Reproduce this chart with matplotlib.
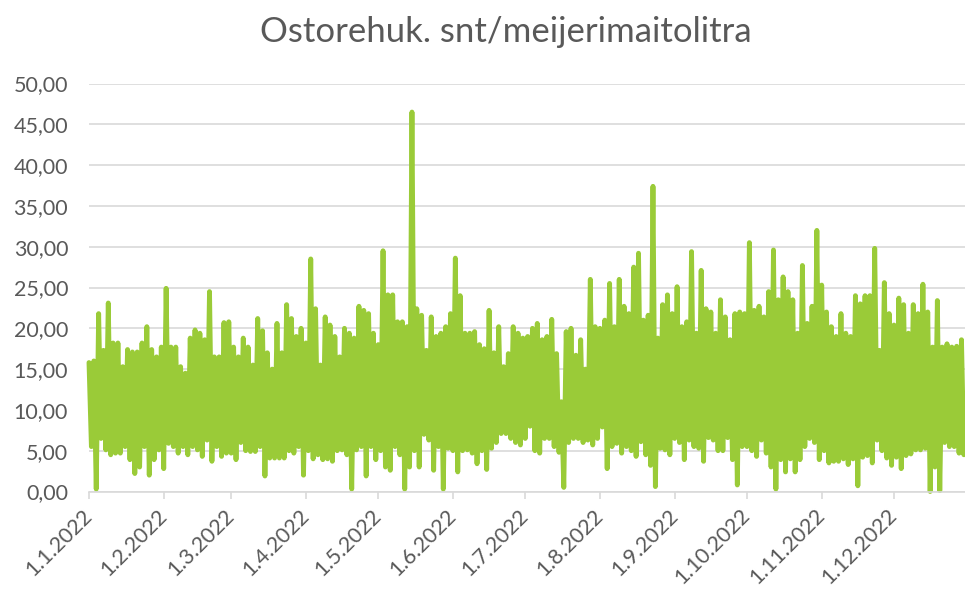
import matplotlib
matplotlib.use('Agg')

import numpy as np
import pandas as pd
import matplotlib.pyplot as plt

title = 'Ostorehuk. snt/meijerimaitolitra'
start = '2022-01-01'
month_labels = ['1.1.2022', '1.2.2022', '1.3.2022', '1.4.2022', '1.5.2022',
                '1.6.2022', '1.7.2022', '1.8.2022', '1.9.2022', '1.10.2022',
                '1.11.2022', '1.12.2022']
y_ticks = [0, 5, 10, 15, 20, 25, 30, 35, 40, 45, 50]

# highest and lowest value in each two-day block
peak = [
    15.8, 16.0, 21.8, 17.3, 23.1, 18.2, 18.2, 15.3, 17.4, 17.1,
    17.1, 18.2, 20.2, 17.4, 16.5, 17.7, 24.9, 17.7, 17.7, 15.3,
    14.5, 18.8, 19.8, 19.4, 18.6, 24.5, 16.5, 16.5, 20.7, 20.8,
    17.7, 16.5, 18.8, 17.7, 15.5, 21.2, 19.7, 17.0, 15.0, 20.6,
    17.0, 22.9, 21.2, 19.0, 20.0, 18.2, 28.5, 22.4, 15.5, 21.4,
    20.4, 19.0, 16.5, 20.0, 19.4, 18.8, 22.7, 22.2, 21.8, 19.4,
    18.0, 29.5, 24.1, 24.1, 20.8, 20.8, 20.2, 46.5, 22.4, 21.6,
    17.3, 21.4, 19.0, 19.4, 20.2, 21.8, 28.6, 24.0, 19.4, 19.4,
    19.6, 18.0, 17.5, 22.2, 17.0, 20.2, 15.3, 16.9, 20.2, 19.4,
    18.8, 19.0, 20.0, 20.6, 18.6, 19.0, 21.1, 16.9, 11.0, 19.6,
    20.0, 16.7, 18.6, 15.0, 26.0, 20.2, 20.0, 21.0, 25.5, 20.2,
    26.0, 22.7, 21.8, 27.5, 29.2, 21.0, 21.6, 37.4, 18.8, 22.9,
    24.1, 21.8, 25.1, 20.2, 20.8, 29.4, 19.4, 27.1, 22.4, 22.0,
    19.4, 23.5, 21.4, 18.6, 21.8, 22.0, 21.8, 30.5, 22.2, 22.7,
    21.4, 24.5, 29.6, 23.5, 26.3, 24.5, 23.5, 19.4, 27.7, 20.6,
    22.7, 32.0, 25.3, 22.0, 20.2, 19.0, 21.8, 19.4, 19.0, 24.0,
    23.0, 24.0, 24.0, 29.8, 17.3, 25.6, 21.8, 20.4, 23.7, 22.9,
    19.4, 22.9, 21.8, 25.4, 22.0, 17.7, 23.4, 17.7, 18.1, 17.7,
    17.8, 18.6, 13.0,
]
trough = [
    5.5, 0.3, 6.5, 5.1, 4.5, 4.7, 4.7, 5.5, 3.9, 2.2,
    3.0, 5.5, 2.0, 3.9, 5.1, 2.8, 5.9, 5.5, 4.7, 5.5,
    4.5, 5.5, 5.1, 4.3, 6.3, 3.7, 5.5, 4.3, 4.7, 4.7,
    3.9, 6.0, 5.0, 4.9, 4.9, 5.5, 1.9, 4.1, 4.1, 4.1,
    4.1, 5.0, 4.7, 5.5, 2.0, 5.0, 4.0, 4.5, 3.9, 4.0,
    3.7, 5.0, 5.1, 4.5, 0.3, 5.1, 5.5, 1.9, 5.5, 3.9,
    5.0, 3.0, 2.6, 5.5, 4.5, 0.3, 3.0, 5.0, 3.0, 7.0,
    6.3, 2.6, 5.5, 0.3, 5.3, 5.0, 2.4, 5.0, 5.1, 4.7,
    3.4, 5.0, 2.7, 5.3, 6.0, 7.1, 7.1, 6.5, 6.0, 5.7,
    6.5, 8.0, 5.0, 4.7, 6.5, 6.5, 5.5, 4.8, 0.5, 6.0,
    6.5, 6.5, 6.0, 6.3, 5.7, 6.5, 7.9, 2.8, 5.5, 5.9,
    4.7, 5.5, 5.0, 4.3, 6.1, 4.5, 3.2, 0.6, 5.3, 5.1,
    4.5, 6.5, 6.0, 3.9, 6.3, 5.5, 5.3, 3.7, 6.6, 6.3,
    5.0, 5.0, 6.6, 3.9, 0.8, 5.5, 5.5, 5.0, 4.3, 6.3,
    4.7, 3.0, 0.3, 3.9, 2.4, 4.0, 2.4, 3.9, 5.5, 6.5,
    6.0, 3.9, 5.0, 3.5, 3.7, 3.7, 4.0, 3.3, 4.0, 0.7,
    4.2, 4.4, 3.5, 6.3, 5.0, 4.1, 3.2, 4.2, 2.8, 4.4,
    4.6, 5.1, 5.1, 5.3, 0.0, 3.0, 0.1, 6.0, 5.5, 5.5,
    4.7, 4.5, 4.5,
]

line_color = '#9ACB38'
text_color = '#595959'
grid_color = '#D9D9D9'

plt.rcParams['font.family'] = ['Lato', 'DejaVu Sans']

# peak on the first day of the block, trough on the second
blocks = pd.date_range(start, periods=len(peak), freq='2D')
x = np.empty(2 * len(peak), dtype='datetime64[ns]')
x[0::2] = blocks.values
x[1::2] = (blocks + pd.Timedelta(days=1)).values
y = np.empty(2 * len(peak))
y[0::2] = peak
y[1::2] = trough

W, H = 965, 590
fig = plt.figure(figsize=(W / 100, H / 100), dpi=100)
ax = fig.add_axes([89 / W, (H - 491.5) / H, 879.7 / W, 408 / H])

ax.plot(x, y, color=line_color, lw=3.5, solid_joinstyle='round',
        solid_capstyle='round', clip_on=False)

ax.set_xlim(pd.Timestamp(start), pd.Timestamp(start) + pd.Timedelta(days=365))
ax.set_ylim(0, 50)

ax.set_yticks(y_ticks)
ax.set_yticklabels([('%.2f' % v).replace('.', ',') for v in y_ticks])
ax.yaxis.set_tick_params(length=0, pad=15, labelsize=15.5,
                         labelcolor=text_color)

months = pd.date_range(start, periods=12, freq='MS')
ax.set_xticks(months)
ax.set_xticklabels(month_labels, rotation=45, ha='right', va='center',
                   rotation_mode='anchor')
ax.xaxis.set_tick_params(length=5, width=1.2, color=grid_color, pad=10,
                         labelsize=15.5, labelcolor=text_color,
                         direction='out')

ax.grid(axis='y', color=grid_color, lw=1.2)
ax.set_axisbelow(True)
for side in ['left', 'right', 'top']:
    ax.spines[side].set_visible(False)
ax.spines['bottom'].set_color(grid_color)
ax.spines['bottom'].set_linewidth(1.2)

fig.text(506 / W, 1 - 41.7 / H, title, ha='center', va='baseline',
         fontsize=25, color=text_color)

fig.savefig('out.png', dpi=100)
